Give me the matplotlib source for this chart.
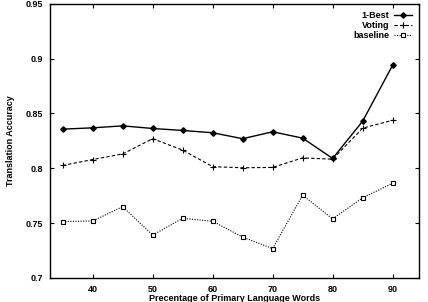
import matplotlib
matplotlib.use("Agg")
import matplotlib.pyplot as plt

# percentage of primary language words
pct = [35, 40, 45, 50, 55, 60, 65, 70, 75, 80, 85, 90]

# translation accuracy per method
one_best = [0.8357, 0.8369, 0.8387, 0.8363, 0.8345, 0.8324, 0.8270, 0.8333, 0.8275, 0.8090, 0.8429, 0.8940]
voting   = [0.8026, 0.8080, 0.8131, 0.8270, 0.8166, 0.8015, 0.8005, 0.8008, 0.8095, 0.8083, 0.8366, 0.8438]
baseline = [0.7514, 0.7520, 0.7650, 0.7391, 0.7544, 0.7517, 0.7373, 0.7268, 0.7755, 0.7539, 0.7731, 0.7864]

x_ticks = [40, 50, 60, 70, 80, 90]
y_ticks = [0.7, 0.75, 0.8, 0.85, 0.9, 0.95]
y_labels = ["0.7", "0.75", "0.8", "0.85", "0.9", "0.95"]

plt.rcParams['font.family'] = ['Liberation Sans', 'DejaVu Sans']
plt.rcParams['font.size'] = 6.5
plt.rcParams['font.weight'] = 'bold'
plt.rcParams['axes.labelweight'] = 'bold'

fig = plt.figure(figsize=(4.28, 3.02), dpi=100)
ax = fig.add_axes([0.117, 0.0795, 0.862, 0.908])

ax.plot(pct, one_best, color='black', linestyle='-', linewidth=1.0,
        marker='D', markersize=2.8, label='1-Best')
ax.plot(pct, voting, color='black', linestyle=(0, (3, 2)), linewidth=0.8,
        marker='+', markersize=4, markeredgewidth=0.8, label='Voting')
ax.plot(pct, baseline, color='black', linestyle=(0, (1, 1.3)), linewidth=0.8,
        marker='s', markersize=3.5, markerfacecolor='white', markeredgewidth=0.8,
        label='baseline')

ax.set_xlim(32.9, 94.4)
ax.set_ylim(0.7, 0.95)
ax.set_xticks(x_ticks)
ax.set_yticks(y_ticks)
ax.set_yticklabels(y_labels)
ax.tick_params(direction='in', length=3, width=0.8, top=True, right=True, pad=5)
for s in ax.spines.values():
    s.set_linewidth(1.0)

ax.set_xlabel("Precentage of Primary Language Words", labelpad=0)
ax.set_ylabel("Translation Accuracy", labelpad=8)

ax.legend(loc='upper right', frameon=False, markerfirst=False, handlelength=2.0,
          handletextpad=0.5, labelspacing=0.1, borderaxespad=0.4, fontsize=6.5)

fig.savefig("out.png", dpi=100)
